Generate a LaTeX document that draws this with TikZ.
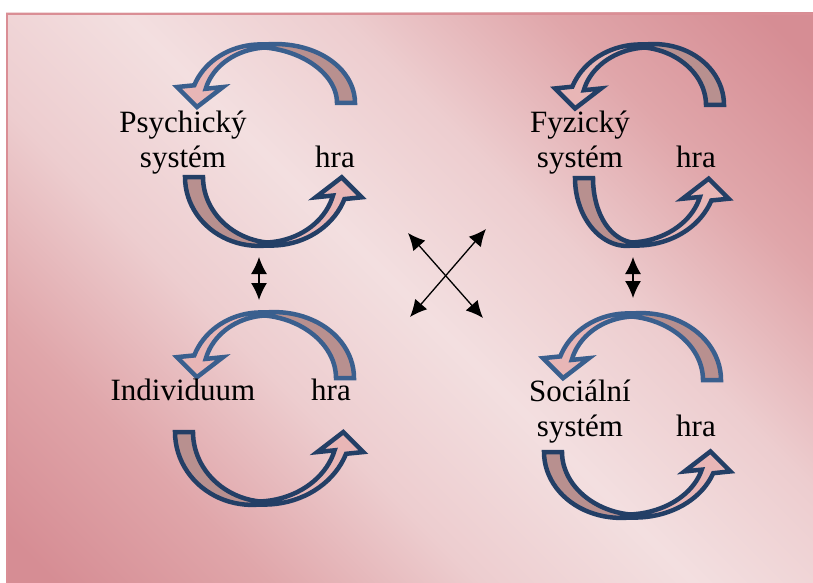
\documentclass[tikz,border=0pt]{standalone}
\usepackage{fontspec}
\setmainfont{Liberation Serif}
\usetikzlibrary{arrows.meta}

\definecolor{bgdark}{HTML}{D68D94}
\definecolor{bgmid}{HTML}{E0A6AA}
\definecolor{bgsoft}{HTML}{EDCDCF}
\definecolor{bglight}{HTML}{F3DFE0}
\definecolor{framecol}{HTML}{DA8E95}
\definecolor{tailfill}{HTML}{B8908F}
\definecolor{headfill}{HTML}{E8B6B6}
\definecolor{rimlight}{HTML}{3A5F8E}
\definecolor{rimdark}{HTML}{233F66}

\pgfdeclareverticalshading{bgshade}{100bp}{color(0bp)=(bgdark); color(17bp)=(bgdark);
  color(28bp)=(bgmid); color(39bp)=(bgsoft); color(50bp)=(bglight); color(61bp)=(bgsoft);
  color(72bp)=(bgmid); color(83bp)=(bgdark); color(100bp)=(bgdark)}

% curved block arrow: apex x, apex y, rotation, tail rx, tail ry, head rx, head ry, rim colour
\newcommand{\hraarrow}[8]{%
  \begin{scope}[shift={(#1,#2)},rotate=#3]
    \pgfmathsetmacro{\bx}{#6*cos(-163)}
    \pgfmathsetmacro{\by}{#7*(1+sin(-163))}
    \coordinate (wo) at ({\bx-23},{\by});
    \coordinate (wi) at ({\bx+23},{\by});
    \coordinate (tp) at ({\bx-3},{\by+20});
    \fill[tailfill]
      plot[domain=0:-90,samples=25,variable=\t] ({(#4+(3+15*cos(\t))/2)*cos(\t)},{#5+(#5+(3+15*cos(\t))/2)*sin(\t)})
      -- plot[domain=-90:0,samples=25,variable=\t] ({(#4-(3+15*cos(\t))/2)*cos(\t)},{#5+(#5-(3+15*cos(\t))/2)*sin(\t)})
      -- cycle;
    \fill[headfill]
      plot[domain=-90:-163,samples=20,variable=\t] ({(#6+(3+9*(-90-\t)/73)/2)*cos(\t)},{#7+(#7+(3+9*(-90-\t)/73)/2)*sin(\t)})
      -- (wo) -- (tp) -- (wi)
      -- plot[domain=-163:-90,samples=20,variable=\t] ({(#6-(3+9*(-90-\t)/73)/2)*cos(\t)},{#7+(#7-(3+9*(-90-\t)/73)/2)*sin(\t)})
      -- cycle;
    \draw[line width=4.5pt,draw=#8]
      plot[domain=0:-90,samples=25,variable=\t] ({(#4+(3+15*cos(\t))/2)*cos(\t)},{#5+(#5+(3+15*cos(\t))/2)*sin(\t)})
      -- plot[domain=-90:-163,samples=20,variable=\t] ({(#6+(3+9*(-90-\t)/73)/2)*cos(\t)},{#7+(#7+(3+9*(-90-\t)/73)/2)*sin(\t)})
      -- (wo) -- (tp) -- (wi)
      -- plot[domain=-163:-90,samples=20,variable=\t] ({(#6-(3+9*(-90-\t)/73)/2)*cos(\t)},{#7+(#7-(3+9*(-90-\t)/73)/2)*sin(\t)})
      -- plot[domain=-90:0,samples=25,variable=\t] ({(#4-(3+15*cos(\t))/2)*cos(\t)},{#5+(#5-(3+15*cos(\t))/2)*sin(\t)})
      -- cycle;
  \end{scope}}

\begin{document}
\begin{tikzpicture}[x=1pt,y=-1pt,
  lbl/.style={font=\fontsize{31}{34.5}\selectfont,inner sep=0pt,align=center},
  dbl/.style={{Latex[length=17pt,width=16pt]}-{Latex[length=17pt,width=16pt]},line width=1.3pt,black}]
\useasboundingbox (0,0) rectangle (813,583);
\shade[shading=bgshade,shading angle=-45] (6,13) rectangle (813,583);
\draw[framecol,line width=2pt] (7,583) -- (7,14) -- (813,14);

% arrows
\hraarrow{265}{46}{0}{81}{57}{68}{58}{rimlight}
\hraarrow{267}{244}{180}{73}{67}{75}{66}{rimdark}
\hraarrow{645}{46}{0}{70}{59}{70}{60}{rimdark}
\hraarrow{632}{244}{180}{48}{66}{77}{64}{rimdark}
\hraarrow{265}{314}{0}{80}{64}{68}{61}{rimlight}
\hraarrow{260}{503}{180}{76}{71}{84}{72}{rimdark}
\hraarrow{632}{315}{0}{80}{65}{69}{61}{rimlight}
\hraarrow{630}{516}{180}{77}{64}{81}{63}{rimdark}

% texts
\node[lbl,anchor=base] (psy) at (183,167) {Psychický\\systém};
\node[lbl,anchor=base] (psyhra) at (335,167) {hra};
\node[lbl,anchor=base] (fyz) at (580,167) {Fyzický\\systém};
\node[lbl,anchor=base] (fyzhra) at (696,167) {hra};
\node[lbl,anchor=base] (ind) at (183,400) {Individuum};
\node[lbl,anchor=base] (indhra) at (331,400) {hra};
\node[lbl,anchor=base] (soc) at (580,436) {Sociální\\systém};
\node[lbl,anchor=base] (sochra) at (696,436) {hra};

% links
\coordinate (la) at (259,257);
\coordinate (lb) at (259,300);
\coordinate (ra) at (633,257);
\coordinate (rb) at (633,298);
\coordinate (xa) at (408,233);
\coordinate (xb) at (483,318);
\coordinate (xc) at (486,229);
\coordinate (xd) at (410,317);
\draw[dbl] (la) -- (lb);
\draw[dbl] (ra) -- (rb);
\draw[dbl] (xa) -- (xb);
\draw[dbl] (xc) -- (xd);
\end{tikzpicture}
\end{document}
